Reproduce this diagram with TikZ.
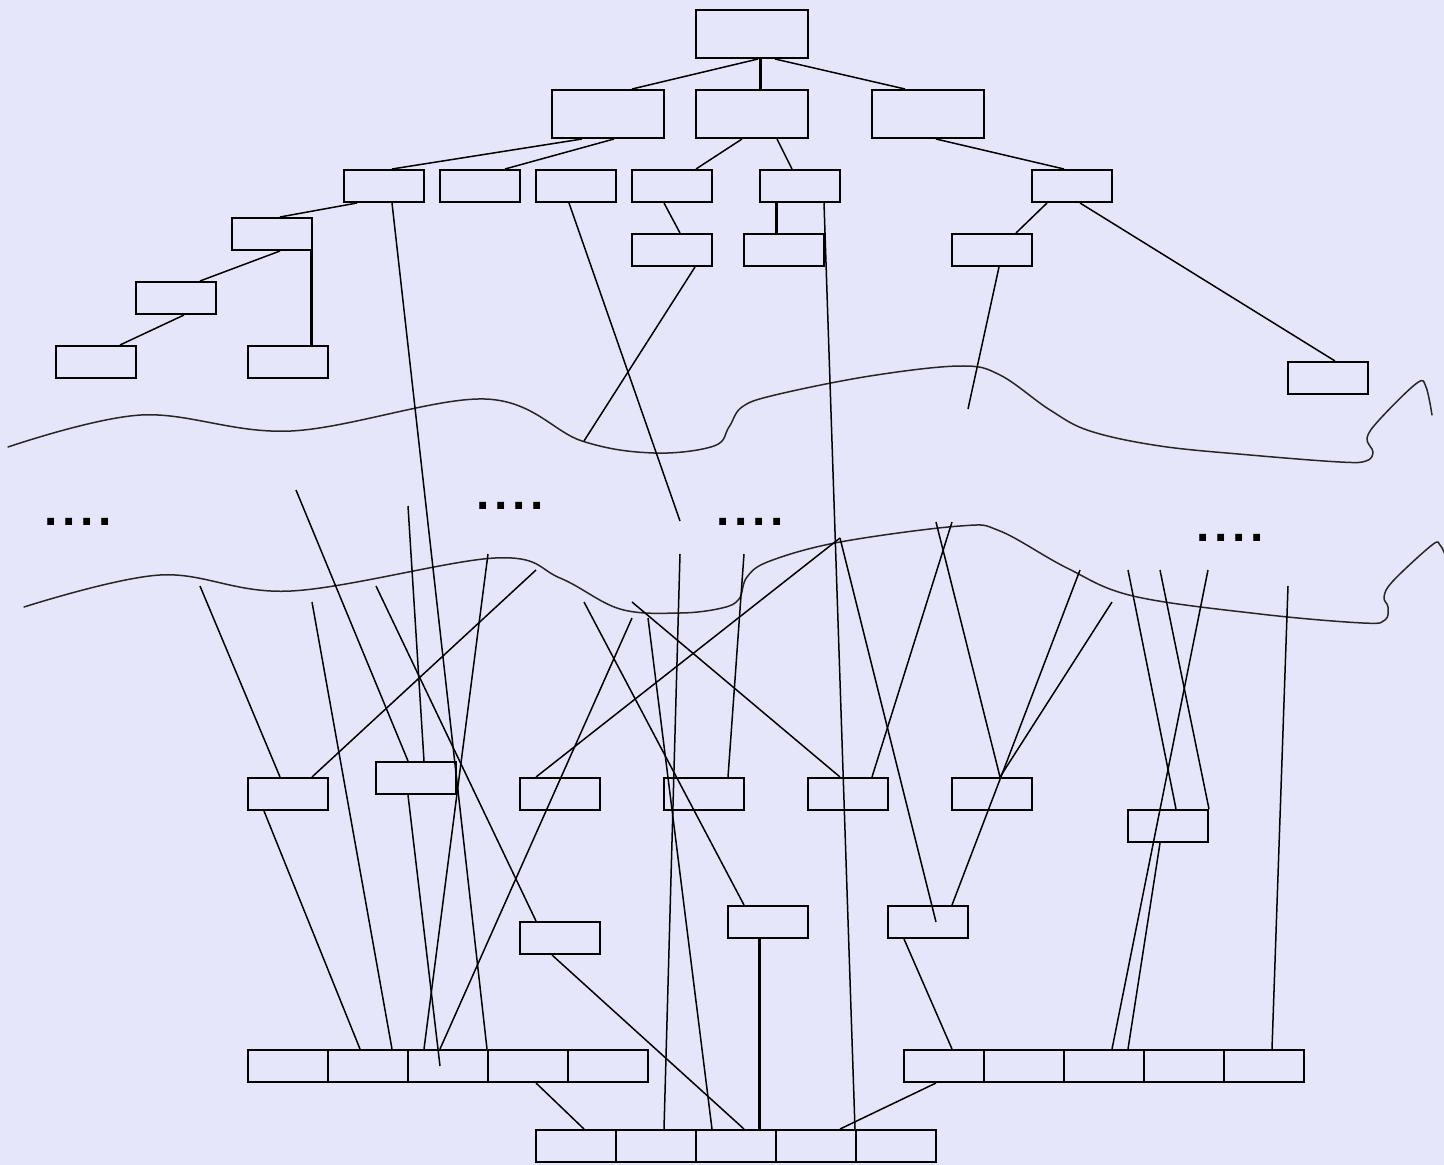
\documentclass[tikz,border=0pt]{standalone}
\usepackage{fontspec}
\newfontfamily\dotfont{Liberation Sans}
\usetikzlibrary{calc}
\definecolor{bgcol}{HTML}{E6E6FA}
\tikzset{
 box/.style={draw, line width=2pt, inner sep=0pt, minimum width=80pt, minimum height=32pt},
 bigbox/.style={box, minimum width=112pt, minimum height=48pt},
 conn/.style={line width=1.5pt},
 thickconn/.style={line width=3pt},
 wave/.style={line width=1.5pt, line join=round, line cap=round, draw=black!85},
 dotstext/.style={inner sep=0pt, anchor=base west, font=\dotfont\bfseries\fontsize{48}{48}\selectfont}
}
\begin{document}
\begin{tikzpicture}[x=1pt,y=-1pt]
\fill[bgcol] (0,0) rectangle (1444,1165);
\useasboundingbox (0,0) rectangle (1444,1165);

% top tree
\node[bigbox] (root) at (752,34) {};
\node[bigbox] (A) at (608,114) {};
\node[bigbox] (B) at (752,114) {};
\node[bigbox] (C) at (928,114) {};
\node[box] (D) at (384,186) {};
\node[box] (E) at (480,186) {};
\node[box] (F) at (576,186) {};
\node[box] (G) at (672,186) {};
\node[box] (H) at (800,186) {};
\node[box] (I) at (1072,186) {};
\node[box] (J) at (272,234) {};
\node[box] (K) at (672,250) {};
\node[box] (L) at (784,250) {};
\node[box] (M) at (992,250) {};
\node[box] (N) at (176,298) {};
\node[box] (O) at (96,362) {};
\node[box] (P) at (288,362) {};
\node[box] (Q) at (1328,378) {};

% lower boxes
\node[box] (R1) at (288,794) {};
\node[box] (R2) at (416,778) {};
\node[box] (R3) at (560,794) {};
\node[box] (R4) at (704,794) {};
\node[box] (R5) at (848,794) {};
\node[box] (R6) at (992,794) {};
\node[box] (R7) at (1168,826) {};
\node[box] (S1) at (560,938) {};
\node[box] (S2) at (768,922) {};
\node[box] (S3) at (928,922) {};

% arrays
\foreach \i/\x in {1/288,2/368,3/448,4/528,5/608} {\node[box] (a\i) at (\x,1066) {};}
\foreach \i/\x in {1/944,2/1024,3/1104,4/1184,5/1264} {\node[box] (b\i) at (\x,1066) {};}
\foreach \i/\x in {1/576,2/656,3/736,4/816,5/896} {\node[box] (c\i) at (\x,1146) {};}

% waves
\draw[wave] plot[smooth, tension=0.6] coordinates {(8,447) (141,415) (291,431) (485,399) (582,441) (654,453) (714,446) (729,427) (742,407) (775,395) (870,376) (960,366) (1000,375) (1050,410) (1090,431) (1160,446) (1250,455) (1340,462) (1366,461) (1373,452) (1367,438) (1380,419) (1417,383) (1426,387) (1432,415)};
\draw[wave] plot[smooth, tension=0.6] coordinates {(24,607) (160,575) (291,591) (495,558) (560,578) (620,609) (680,613) (722,608) (739,599) (747,577) (770,561) (840,542) (960,526) (1000,531) (1067,568) (1133,596) (1260,614) (1363,623) (1385,620) (1388,607) (1384,597) (1393,581) (1432,545) (1440,545) (1446,557)};

% dots
\node[dotstext] (d1) at (44.6,525.5) {.\hspace{4.7pt}.\hspace{4.7pt}.\hspace{4.7pt}.};
\node[dotstext] (d2) at (476.6,509.7) {.\hspace{4.7pt}.\hspace{4.7pt}.\hspace{4.7pt}.};
\node[dotstext] (d3) at (716.6,525.7) {.\hspace{4.7pt}.\hspace{4.7pt}.\hspace{4.7pt}.};
\node[dotstext] (d4) at (1196.6,541.7) {.\hspace{4.7pt}.\hspace{4.7pt}.\hspace{4.7pt}.};

% free ends
\coordinate (f1) at (680,521);
\coordinate (k1) at (584,441);
\coordinate (m1) at (968,409);
\coordinate (u1) at (296,490);
\coordinate (u2) at (408,506);
\coordinate (u3) at (488,554);
\coordinate (u4) at (536,570);
\coordinate (u5) at (200,586);
\coordinate (u6) at (312,602);
\coordinate (u7) at (376,586);
\coordinate (u8) at (632,618);
\coordinate (u9) at (584,602);
\coordinate (u10) at (632,602);
\coordinate (u11) at (648,618);
\coordinate (u12) at (680,554);
\coordinate (u13) at (744,554);
\coordinate (p1) at (840,538);
\coordinate (u14) at (952,522);
\coordinate (u15) at (936,522);
\coordinate (u16) at (1080,570);
\coordinate (u17) at (1112,602);
\coordinate (u18) at (1128,570);
\coordinate (u19) at (1160,570);
\coordinate (u20) at (1208,570);
\coordinate (u21) at (1288,586);

% top tree connectors
\draw[conn] ([xshift=6pt]root.south) -- ([xshift=24pt]A.north);
\draw[thickconn] ([xshift=8pt]root.south) -- ([xshift=8pt]B.north);
\draw[conn] ([xshift=23pt]root.south) -- ([xshift=-23pt]C.north);
\draw[conn] ([xshift=-26pt]A.south) -- ([xshift=8pt]D.north);
\draw[conn] ([xshift=6pt]A.south) -- ([xshift=25pt]E.north);
\draw[conn] ([xshift=-10pt]B.south) -- ([xshift=24pt]G.north);
\draw[conn] ([xshift=25pt]B.south) -- ([xshift=-8pt]H.north);
\draw[conn] ([xshift=8pt]C.south) -- ([xshift=-8pt]I.north);
\draw[conn] ([xshift=-27pt]D.south) -- ([xshift=8pt]J.north);
\draw[conn] ([xshift=8pt]J.south) -- ([xshift=24pt]N.north);
\draw[conn] ([xshift=8pt]N.south) -- ([xshift=24pt]O.north);
\draw[thickconn] ([xshift=39pt]J.south) -- ([xshift=23pt]P.north);
\draw[conn] ([xshift=-8pt]G.south) -- ([xshift=8pt]K.north);
\draw[thickconn] ([xshift=-24pt]H.south) -- ([xshift=-8pt]L.north);
\draw[conn] ([xshift=-25pt]I.south) -- ([xshift=24pt]M.north);
\draw[conn] ([xshift=8pt]I.south) -- ([xshift=7pt]Q.north);

% long connectors
\draw[conn] ([xshift=8pt]D.south) -- (a4.north west);
\draw[conn] ([xshift=-7pt]F.south) -- (f1);
\draw[conn] ([xshift=23pt]K.south) -- (k1);
\draw[conn] ([xshift=24pt]H.south) -- (c5.north west);
\draw[conn] ([xshift=7pt]M.south) -- (m1);

% lower connectors
\draw[conn] (u1) -- ([xshift=-8pt]R2.north);
\draw[conn] (u2) -- ([xshift=8pt]R2.north);
\draw[conn] ([xshift=-8pt]R2.south) -- ([xshift=-8pt]a3.center);
\draw[conn] (u3) -- ([xshift=-24pt]a3.north);
\draw[conn] (u4) -- ([xshift=24pt]R1.north);
\draw[conn] (u5) -- ([xshift=-8pt]R1.north);
\draw[conn] ([xshift=-24pt]R1.south) -- ([xshift=-8pt]a2.north);
\draw[conn] (u6) -- ([xshift=24pt]a2.north);
\draw[conn] (u7) -- ([xshift=-24pt]S1.north);
\draw[conn] ([xshift=-8pt]S1.south) -- ([xshift=8pt]c3.north);
\draw[thickconn] ([xshift=-9pt]S2.south) -- ([xshift=23pt]c3.north);
\draw[conn] ([xshift=8pt]a4.south) -- ([xshift=8pt]c1.north);
\draw[conn] (u8) -- ([xshift=-8pt]a3.north);
\draw[conn] (u9) -- ([xshift=-24pt]S2.north);
\draw[conn] (u10) -- ([xshift=-8pt]R5.north);
\draw[conn] (u11) -- ([xshift=-24pt]c3.north);
\draw[conn] (u12) -- ([xshift=8pt]c2.north);
\draw[conn] (u13) -- ([xshift=24pt]R4.north);
\draw[conn] ([xshift=-24pt]R3.north) -- (p1);
\draw[conn] (p1) -- ([xshift=8pt]S3.center);
\draw[conn] (u14) -- ([xshift=24pt]R5.north);
\draw[conn] (u15) -- ([xshift=8pt]R6.north);
\draw[conn] (u16) -- ([xshift=24pt]S3.north);
\draw[conn] (u17) -- ([xshift=8pt]R6.north);
\draw[conn] (u18) -- ([xshift=8pt]R7.north);
\draw[conn] (u19) -- (R7.north east);
\draw[conn] (u20) -- ([xshift=8pt]b3.north);
\draw[conn] ([xshift=-8pt]R7.south) -- ([xshift=24pt]b3.north);
\draw[conn] (u21) -- ([xshift=8pt]b5.north);
\draw[conn] ([xshift=-24pt]S3.south) -- ([xshift=8pt]b1.north);
\draw[conn] ([xshift=-8pt]b1.south) -- ([xshift=24pt]c4.north);
\end{tikzpicture}
\end{document}
